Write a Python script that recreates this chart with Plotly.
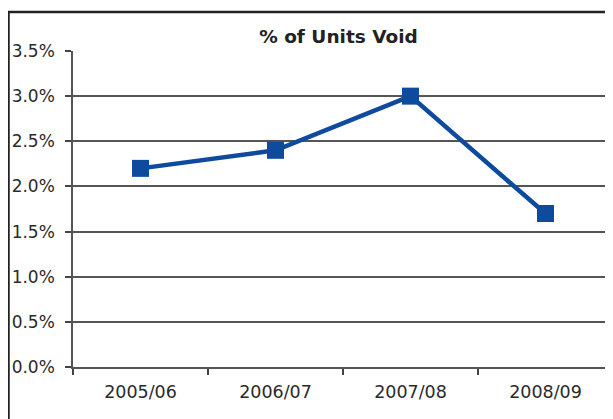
import plotly.graph_objects as go

categories = ["2005/06", "2006/07", "2007/08", "2008/09"]
void_pct = [2.2, 2.4, 3.0, 1.7]
y_ticks = [0.0, 0.5, 1.0, 1.5, 2.0, 2.5, 3.0, 3.5]
y_tick_labels = ["0.0%", "0.5%", "1.0%", "1.5%", "2.0%", "2.5%", "3.0%", "3.5%"]

# page body has an 8px margin, so figure coords = screen coords - 8;
# figure sized to fit in the window without scrollbars
W, H = 605, 411
L, T, R, B = 65, 43, 0, 52
PW, PH = W - L - R, H - T - B

fig = go.Figure()
fig.add_trace(go.Scatter(
    x=categories, y=void_pct, mode="lines+markers",
    line=dict(color="#0E4A9E", width=4.5),
    marker=dict(symbol="square", size=17, color="#0E4A9E"),
    showlegend=False, cliponaxis=False,
))

fig.update_layout(
    width=W, height=H,
    margin=dict(l=L, r=R, t=T, b=B, autoexpand=False),
    paper_bgcolor="white", plot_bgcolor="white",
    font=dict(family="DejaVu Sans", size=17, color="#2a2a2a"),
    title=dict(text="<b>% of Units Void</b>", x=(330.5 / W), xanchor="center",
               y=1 - 29 / H, yanchor="middle",
               font=dict(family="DejaVu Sans", size=18.5, color="#222222")),
    xaxis=dict(
        type="category", range=[-0.5, 3.5], tickson="boundaries",
        ticks="outside", ticklen=6, tickcolor="#444", tickwidth=1.5,
        showgrid=False, showline=True, linecolor="#555", linewidth=2,
        tickfont=dict(size=17.5, color="#2a2a2a"), ticklabelstandoff=8,
        automargin=False,
    ),
    yaxis=dict(
        range=[0, 3.5], tickvals=y_ticks, ticktext=y_tick_labels,
        ticks="outside", ticklen=6, tickcolor="#444", tickwidth=1.5,
        showgrid=True, gridcolor="#555", gridwidth=1.5,
        showline=True, linecolor="#555", linewidth=1.5,
        zeroline=False, tickfont=dict(size=17, color="#2a2a2a"),
        ticklabelstandoff=7, automargin=False,
    ),
    shapes=[dict(
        type="rect", xref="paper", yref="paper",
        x0=(0.5 - L) / PW, x1=1.2, y0=-0.3, y1=(PH + T - 4) / PH,
        line=dict(color="#222", width=2.5), fillcolor="rgba(0,0,0,0)",
        layer="below",
    )],
)

fig.write_html("out.html")
